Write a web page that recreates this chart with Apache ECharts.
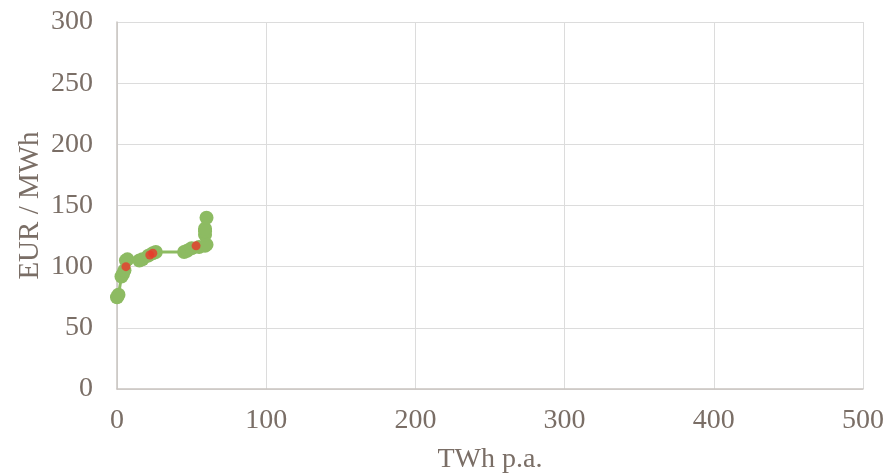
<!DOCTYPE html>
<html>
<head>
<meta charset="utf-8">
<script src="https://cdn.jsdelivr.net/npm/echarts@6/dist/echarts.min.js"></script>
<style>
  html, body { margin: 0; padding: 0; background: #fff; }
  #chart { width: 888px; height: 473px; }
</style>
</head>
<body>
<div id="chart"></div>
<script>
// Supply curve: cumulative volume (TWh p.a.) against cost (EUR / MWh)
const supplyCurve = [
  [0, 75], [1, 77], [3, 92], [4, 94], [5, 97], [6, 105], [7, 106],
  [15, 105], [17, 106], [21, 109], [24, 111], [26, 112],
  [45, 112], [47, 113], [50, 115], [55, 116], [59, 117], [60, 118],
  [59, 126], [59, 129], [59, 131], [60, 140]
];
const highlighted = [[6, 100], [22, 109.5], [24, 111], [53, 117]];

const xTicks = { min: 0, max: 500, interval: 100 };
const yTicks = { min: 0, max: 300, interval: 50 };

const textColor = '#7a6e66';
const font = 'Liberation Serif';
const fontSize = 28;

const chart = echarts.init(document.getElementById('chart'));
chart.setOption({
  animation: false,
  grid: { left: 117, right: 25, top: 22, bottom: 84, containLabel: false, outerBoundsMode: 'none' },
  xAxis: {
    type: 'value',
    min: xTicks.min, max: xTicks.max, interval: xTicks.interval,
    name: 'TWh p.a.',
    nameLocation: 'middle',
    nameGap: 57,
    nameMoveOverlap: false,
    nameTextStyle: { color: textColor, fontFamily: font, fontSize: fontSize },
    axisLine: { show: true, lineStyle: { color: '#c9c4c0', width: 1.5 } },
    axisTick: { show: false },
    axisLabel: { color: textColor, fontFamily: font, fontSize: fontSize, margin: 18 },
    splitLine: { show: true, lineStyle: { color: '#dcdcdc', width: 1 } }
  },
  yAxis: {
    type: 'value',
    min: yTicks.min, max: yTicks.max, interval: yTicks.interval,
    name: 'EUR / MWh',
    nameLocation: 'middle',
    nameGap: 72,
    nameMoveOverlap: false,
    nameTextStyle: { color: textColor, fontFamily: font, fontSize: 29 },
    axisLine: { show: true, lineStyle: { color: '#c9c4c0', width: 1.5 } },
    axisTick: { show: false },
    axisLabel: { color: textColor, fontFamily: font, fontSize: fontSize, margin: 24 },
    splitLine: { show: true, lineStyle: { color: '#dcdcdc', width: 1 } }
  },
  series: [
    {
      type: 'line',
      data: supplyCurve,
      symbol: 'circle',
      symbolSize: 14,
      itemStyle: { color: '#8dbb62' },
      lineStyle: { color: '#8dbb62', width: 3 },
      z: 2
    },
    {
      type: 'scatter',
      data: highlighted,
      symbol: 'circle',
      symbolSize: 9,
      itemStyle: { color: '#e8392c' },
      z: 3
    }
  ]
});
</script>
</body>
</html>
